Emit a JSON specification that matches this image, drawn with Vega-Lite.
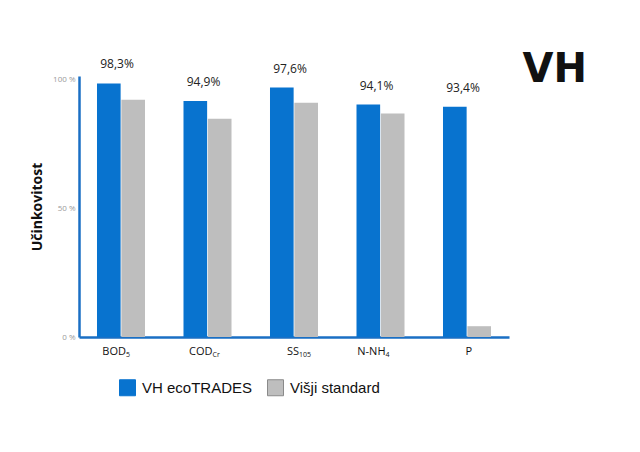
{
  "$schema": "https://vega.github.io/schema/vega-lite/v6.json",
  "autosize": "none",
  "padding": {"left": 79, "top": 76, "right": 131, "bottom": 115},
  "width": 430,
  "height": 261,
  "background": "white",
  "title": {
    "text": "VH",
    "anchor": "end",
    "frame": "group",
    "font": "DejaVu Sans",
    "fontSize": 40,
    "fontWeight": 900,
    "color": "#111111",
    "dx": 78,
    "dy": 36
  },
  "data": {
    "values": [
      {"param": "BOD", "sub": "5", "series": "VH ecoTRADES", "value": 98.6, "label": "98,3%"},
      {"param": "BOD", "sub": "5", "series": "Višji standard", "value": 92.3, "label": ""},
      {"param": "COD", "sub": "Cr", "series": "VH ecoTRADES", "value": 91.8, "label": "94,9%"},
      {"param": "COD", "sub": "Cr", "series": "Višji standard", "value": 84.9, "label": ""},
      {"param": "SS", "sub": "105", "series": "VH ecoTRADES", "value": 97.0, "label": "97,6%"},
      {"param": "SS", "sub": "105", "series": "Višji standard", "value": 91.1, "label": ""},
      {"param": "N-NH", "sub": "4", "series": "VH ecoTRADES", "value": 90.4, "label": "94,1%"},
      {"param": "N-NH", "sub": "4", "series": "Višji standard", "value": 86.9, "label": ""},
      {"param": "P", "sub": "", "series": "VH ecoTRADES", "value": 89.5, "label": "93,4%"},
      {"param": "P", "sub": "", "series": "Višji standard", "value": 4.2, "label": ""}
    ]
  },
  "encoding": {
    "x": {
      "field": "param",
      "type": "nominal",
      "sort": null,
      "title": null,
      "scale": {"paddingInner": 0.445, "paddingOuter": 0.208},
      "axis": {
        "labelAngle": 0,
        "labelAlign": "right",
        "labelOffset": 5,
        "labelPadding": 8,
        "labelBaseline": "top",
        "labelFont": "Open Sans",
        "labelFontSize": 11,
        "labelColor": "#111111"
      }
    }
  },
  "layer": [
    {
      "mark": {"type": "bar"},
      "encoding": {
        "xOffset": {"field": "series", "type": "nominal", "scale": {"paddingInner": 0.03}},
        "y": {
          "field": "value",
          "type": "quantitative",
          "title": "Učinkovitost",
          "scale": {"domain": [0, 101.5], "nice": false},
          "axis": {
            "values": [0, 50, 100],
            "labelExpr": "datum.value + ' %'",
            "labelFont": "Open Sans",
            "labelFontSize": 8,
            "labelColor": "#9a9a9a",
            "labelPadding": 4,
            "titleFont": "Open Sans",
            "titleFontSize": 14,
            "titleFontWeight": "bold",
            "titleColor": "#111111",
            "titlePadding": 8
          }
        },
        "color": {
          "field": "series",
          "type": "nominal",
          "scale": {
            "domain": ["VH ecoTRADES", "Višji standard"],
            "range": ["#0873cf", "#bebebe"]
          },
          "legend": {
            "title": null,
            "orient": "none",
            "legendX": 40,
            "legendY": 303,
            "direction": "horizontal",
            "symbolType": "square",
            "symbolSize": 256,
            "symbolOpacity": 1,
            "symbolStrokeWidth": 1,
            "labelFont": "Liberation Sans",
            "labelFontSize": 15,
            "labelColor": "#111111",
            "labelOffset": 6,
            "columnPadding": 12,
            "padding": 0,
            "encode": {
              "symbols": {
                "update": {
                  "stroke": {"signal": "datum.value === 'Višji standard' ? '#8a8a8a' : '#0873cf'"}
                }
              }
            }
          }
        }
      }
    },
    {
      "transform": [{"filter": "datum.label != ''"}],
      "mark": {
        "type": "text",
        "font": "Open Sans",
        "fontSize": 12,
        "color": "#222222",
        "baseline": "alphabetic",
        "dy": -15,
        "dx": -4
      },
      "encoding": {
        "y": {"field": "value", "type": "quantitative"},
        "text": {"field": "label"}
      }
    },
    {
      "transform": [{"filter": "datum.series == 'VH ecoTRADES'"}],
      "mark": {
        "type": "text",
        "font": "Open Sans",
        "fontSize": 7,
        "color": "#111111",
        "align": "left",
        "baseline": "top",
        "dx": 5,
        "dy": 14
      },
      "encoding": {
        "y": {"datum": 0, "type": "quantitative"},
        "text": {"field": "sub"}
      }
    }
  ],
  "config": {
    "view": {"stroke": null},
    "axis": {
      "grid": false,
      "ticks": false,
      "domainColor": "#1a6fc4",
      "domainWidth": 2.5
    }
  }
}
